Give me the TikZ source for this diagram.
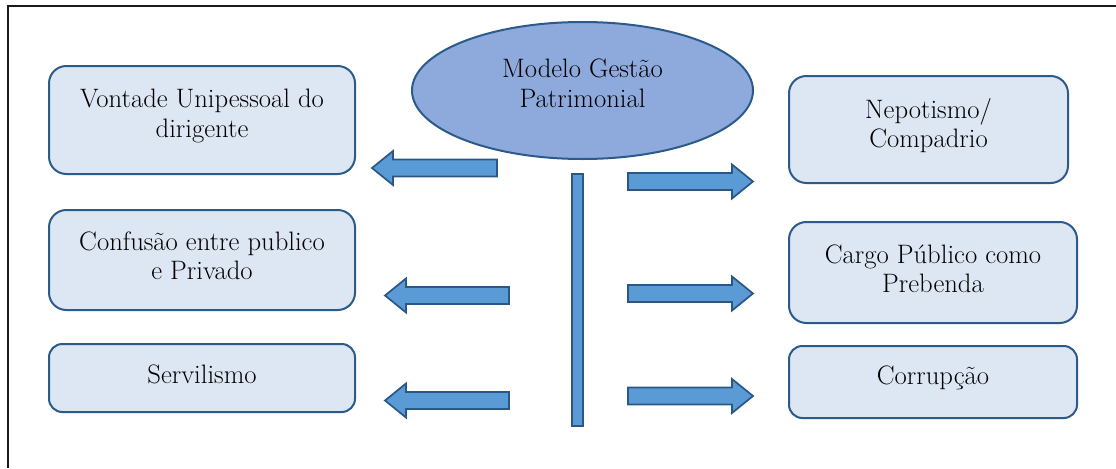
\documentclass[tikz,border=0pt]{standalone}
\usepackage{fontspec}
\usetikzlibrary{shapes.geometric}

\definecolor{boxfill}{HTML}{DDE7F4}
\definecolor{boxline}{HTML}{2C5A8A}
\definecolor{ovalfill}{HTML}{8EA9DB}
\definecolor{arrowfill}{HTML}{5B9BD5}
\definecolor{arrowline}{HTML}{2A5786}
\definecolor{frameline}{HTML}{1A1A1A}

% block arrow: #1 name, #2 tail x, #3 tip x, #4 centre y
\newcommand\blkarrow[4]{%
  \pgfmathsetmacro\hb{#3+21*sign(#2-#3)}%
  \draw[blockarrow] ({#2},{#4-8.5}) -- ({\hb},{#4-8.5}) -- ({\hb},{#4-17})
    -- ({#3},{#4}) coordinate (#1) -- ({\hb},{#4+17}) -- ({\hb},{#4+8.5})
    -- ({#2},{#4+8.5}) -- cycle;}

\tikzset{
  box/.style={draw=boxline, fill=boxfill, line width=1.5pt, rounded corners=13pt,
    inner sep=0pt, outer sep=0pt},
  oval/.style={ellipse, draw=boxline, fill=ovalfill, line width=1.5pt,
    inner sep=0pt, outer sep=0pt},
  bar/.style={draw=arrowline, fill=arrowfill, line width=1.3pt, inner sep=0pt,
    outer sep=0pt, minimum width=8.25pt, minimum height=189pt},
  blockarrow/.style={draw=arrowline, fill=arrowfill, line width=1.3pt, line join=miter},
  lbl/.style={align=center, inner sep=0pt,
    font=\fontsize{20}{22}\selectfont},
}

\begin{document}
\begin{tikzpicture}[x=0.75pt, y=-0.75pt]
\useasboundingbox (0,0) rectangle (1116,468);

% outer frame (top and left edges)
\draw[frameline, line width=1.5pt] (7.5,468) -- (7.5,6) -- (1116,6);

% central ellipse
\node[oval, minimum width=255.75pt, minimum height=102.75pt] (model) at (582.5,90.5) {};
\node[lbl] (modelt) at ([yshift=5.5pt]model.center) {Modelo Gestão\\Patrimonial};

% vertical bar
\node[bar] (spine) at (577.5,300) {};

% left column
\node[box, minimum width=229.5pt, minimum height=81pt] (b1) at (202,120) {};
\node[lbl] (t1) at ([yshift=3pt]b1.center) {Vontade Unipessoal do\\dirigente};
\node[box, minimum width=229.5pt, minimum height=75pt] (b2) at (202,260) {};
\node[lbl] (t2) at ([yshift=3pt]b2.center) {Confusão entre publico\\e Privado};
\node[box, minimum width=229.5pt, minimum height=51pt, rounded corners=10pt] (b3) at (202,378) {};
\node[lbl] (t3) at ([yshift=3pt]b3.center) {Servilismo};

% right column
\node[box, minimum width=209.25pt, minimum height=80.25pt] (b4) at (928.5,129.5) {};
\node[lbl] (t4) at ([yshift=3pt]b4.center) {Nepotismo/\\Compadrio};
\node[box, minimum width=216pt, minimum height=75.75pt] (b5) at (933,272.5) {};
\node[lbl] (t5) at ([yshift=3pt]b5.center) {Cargo Público como\\Prebenda};
\node[box, minimum width=216pt, minimum height=54pt, rounded corners=10pt] (b6) at (933,382) {};
\node[lbl] (t6) at ([yshift=3pt]b6.center) {Corrupção};

% block arrows
\blkarrow{a1}{497}{372}{168}
\blkarrow{a2}{509}{385}{295.5}
\blkarrow{a3}{509}{385}{400.5}
\blkarrow{a4}{628}{753}{181.5}
\blkarrow{a5}{628}{753}{293.5}
\blkarrow{a6}{628}{753}{396}
\end{tikzpicture}
\end{document}
